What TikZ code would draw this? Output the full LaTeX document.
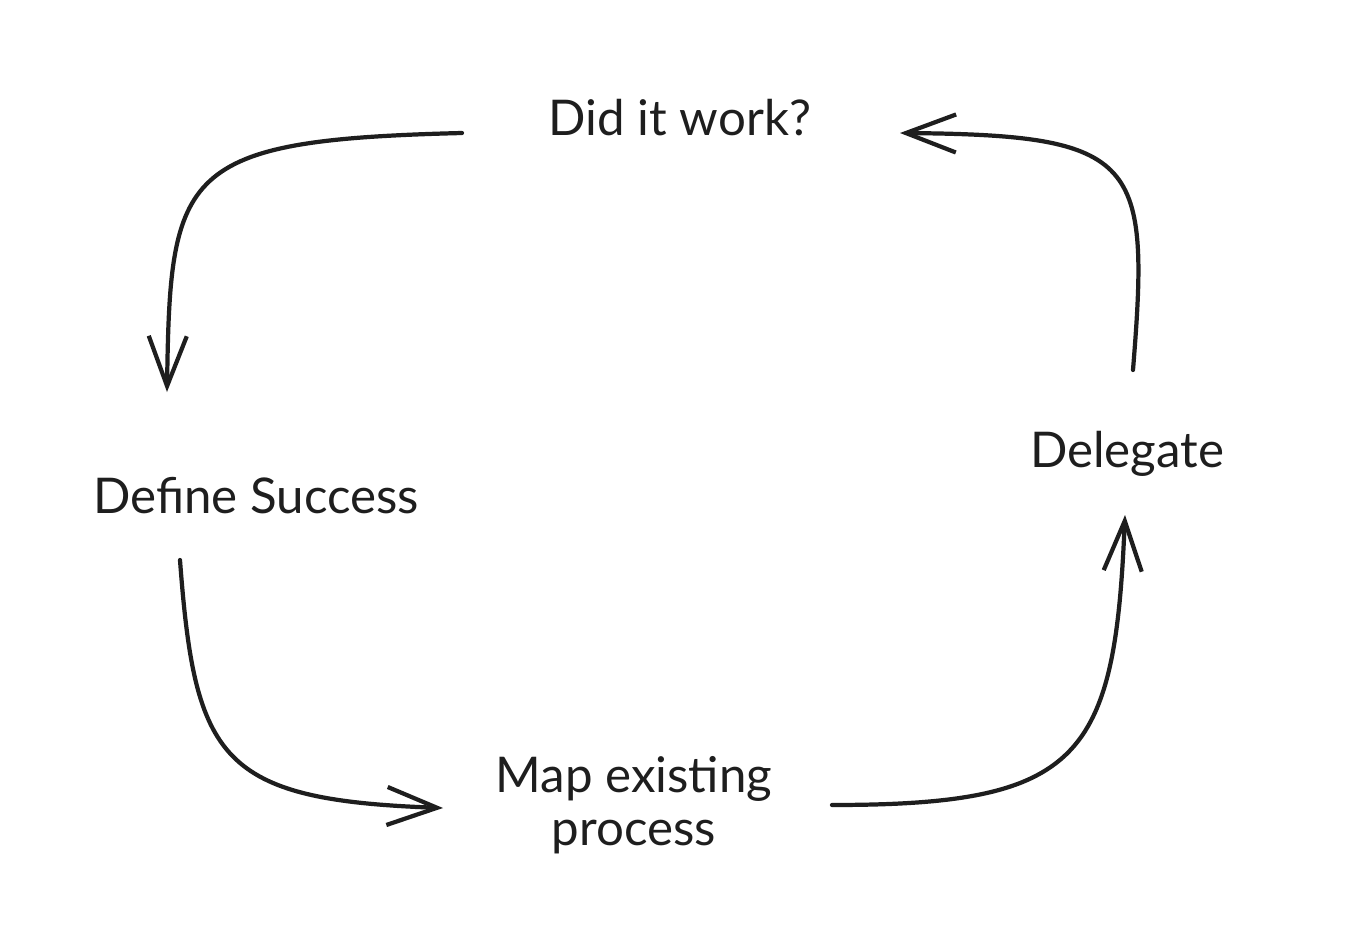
\documentclass[tikz,border=0pt]{standalone}
\usepackage{fontspec}
\setmainfont{Lato}
\usepackage{xcolor}
\usepackage{tikz}
\usetikzlibrary{arrows.meta}
\definecolor{inkmain}{HTML}{1E1E1E}
\tikzset{every node/.append style={font=\fontsize{14}{15}\selectfont,text=inkmain}}
\tikzset{steplabel/.style={inner sep=0pt,anchor=base},
  loopline/.style={-{Straight Barb[length=0.5cm,width=0.38cm]},inkmain,
    line width=1.2pt,line cap=round,line join=round}}

\begin{document}
\begin{tikzpicture}[x=0.01cm,y=-0.01cm]
  \useasboundingbox[fill=white] (0,0) rectangle (1350,942);
  % the four steps of the loop
  \node[steplabel] (check) at (680,135) {Did it work?};
  \node[steplabel] (define) at (256,513) {Define Success};
  \node[steplabel] (delegate) at (1127,467) {Delegate};
  \node[inner sep=0pt,align=center] (mapproc) at (634,805) {Map existing\\process};
  % free ends of the arrows
  \coordinate (checkout) at (462,133);
  \coordinate (definein) at (167,392);
  \coordinate (defineout) at (180,560);
  \coordinate (mapin) at (443,808);
  \coordinate (mapout) at (832,805);
  \coordinate (delegatein) at (1125,515);
  \coordinate (delegateout) at (1133,370);
  \coordinate (checkin) at (900,133);
  \draw[loopline] (checkout) .. controls (180,140) and (170,170) .. (definein);
  \draw[loopline] (defineout) .. controls (195,760) and (220,800) .. (mapin);
  \draw[loopline] (mapout) .. controls (1080,805) and (1115,760) .. (delegatein);
  \draw[loopline] (delegateout) .. controls (1150,160) and (1140,135) .. (checkin);
\end{tikzpicture}
\end{document}
